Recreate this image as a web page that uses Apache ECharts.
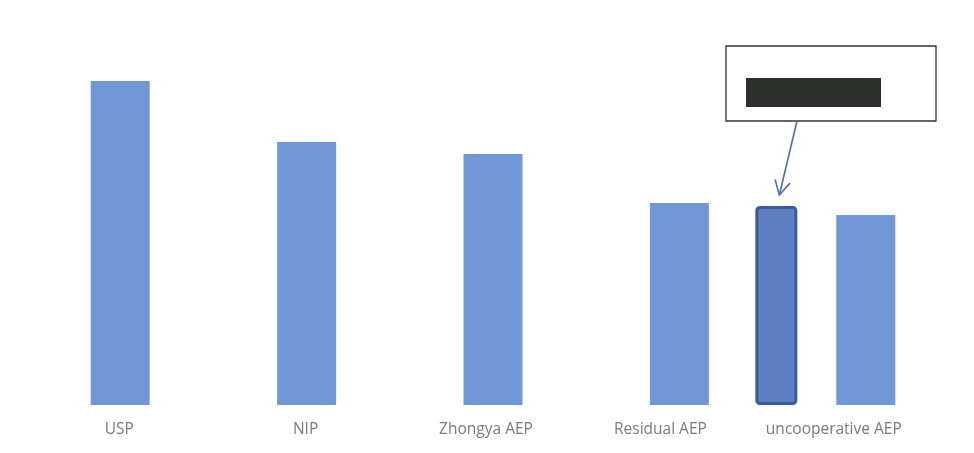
<!DOCTYPE html>
<html>
<head>
<meta charset="utf-8">
<script src="https://cdn.jsdelivr.net/npm/echarts@6/dist/echarts.min.js"></script>
<style>
  html, body { margin: 0; padding: 0; background: #ffffff; }
  #chart { width: 974px; height: 453px; }
</style>
</head>
<body>
<div id="chart"></div>
<script>
// Programme categories and bar heights
const categories = ['USP', 'NIP', 'Zhongya AEP', 'Residual AEP', 'uncooperative AEP'];
const values = [324, 263, 251, 202, 190];

// Highlighted bar placed between Residual AEP and uncooperative AEP
const highlightPosition = [3.52];
const highlightValue = [199];

const chart = echarts.init(document.getElementById('chart'));

// Leftward nudge (px) for each category label under its bar
const labelNudge = [1, 1, 7, 19, 32];
const labelRich = {};
labelNudge.forEach((d, i) => {
  labelRich['c' + i] = {
    color: '#7a7a7a',
    fontFamily: 'Open Sans',
    fontSize: 15.5,
    padding: [0, 2 * d, 0, 0]
  };
});

chart.setOption({
  backgroundColor: '#ffffff',
  animation: false,
  grid: { left: 27, right: 15, top: 5, bottom: 48 },
  xAxis: [
    {
      type: 'category',
      data: categories,
      axisLine: { show: false },
      axisTick: { show: false },
      axisLabel: {
        interval: 0,
        margin: 17,
        formatter: (val, idx) => '{c' + idx + '|' + val + '}',
        rich: labelRich
      }
    },
    {
      type: 'value',
      min: -0.5,
      max: 4.5,
      show: false
    }
  ],
  yAxis: {
    type: 'value',
    min: 0,
    max: 400,
    show: false,
    splitLine: { show: false }
  },
  series: [
    {
      type: 'bar',
      xAxisIndex: 0,
      data: values,
      barWidth: 59,
      itemStyle: { color: '#7098d8' }
    },
    {
      type: 'bar',
      xAxisIndex: 1,
      data: highlightPosition.map((x, i) => [x, highlightValue[i]]),
      barWidth: 42,
      itemStyle: {
        color: '#5f7fc4',
        borderColor: '#3b5b98',
        borderWidth: 3,
        borderRadius: 3
      }
    }
  ]
});

// Callout box with arrow pointing at the highlighted bar
const barTop = chart.convertToPixel({ xAxisIndex: 1, yAxisIndex: 0 }, [highlightPosition[0], highlightValue[0]]);
const tipX = barTop[0] + 3;
const tipY = barTop[1] - 11;
const startX = 797, startY = 121;
const ang = Math.atan2(tipY - startY, tipX - startX);
const headLen = 16, headSpread = 0.5;
const h1 = [tipX - headLen * Math.cos(ang - headSpread), tipY - headLen * Math.sin(ang - headSpread)];
const h2 = [tipX - headLen * Math.cos(ang + headSpread), tipY - headLen * Math.sin(ang + headSpread)];

chart.setOption({
  graphic: [
    {
      type: 'rect',
      shape: { x: 726, y: 46, width: 210, height: 75 },
      style: { fill: '#ffffff', stroke: '#333333', lineWidth: 1.3 }
    },
    {
      type: 'rect',
      shape: { x: 746, y: 78, width: 135, height: 29 },
      style: { fill: '#2b302d' }
    },
    {
      type: 'line',
      shape: { x1: startX, y1: startY, x2: tipX, y2: tipY },
      style: { stroke: '#4a70ad', lineWidth: 1.6 }
    },
    {
      type: 'polyline',
      shape: { points: [h1, [tipX, tipY], h2] },
      style: { stroke: '#4a70ad', lineWidth: 1.6, fill: null }
    }
  ]
});
</script>
</body>
</html>
